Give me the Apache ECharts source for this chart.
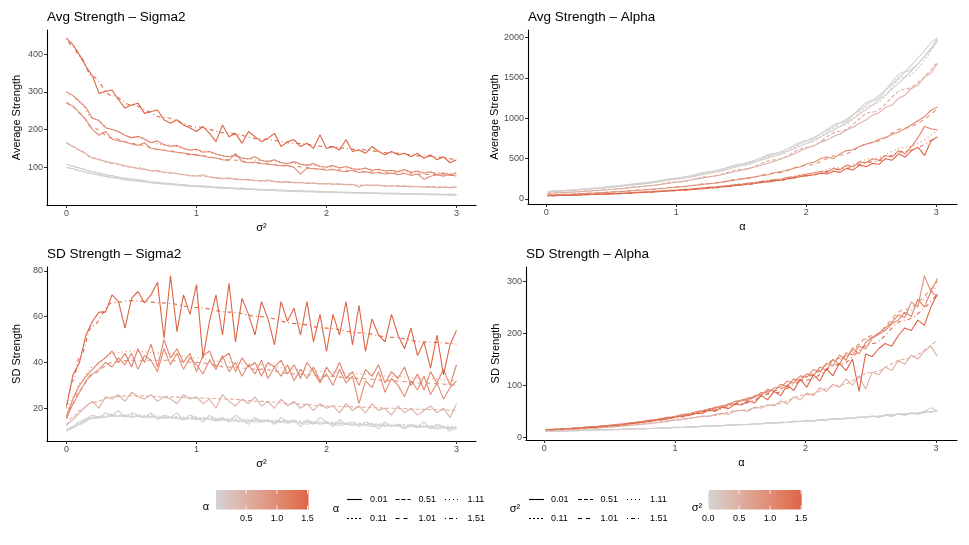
<!DOCTYPE html>
<html><head><meta charset="utf-8">
<script src="https://cdn.jsdelivr.net/npm/echarts@6/dist/echarts.min.js"></script>
<style>html,body{margin:0;padding:0;background:#fff}#c{width:969px;height:545px}</style>
</head><body><div id="c"></div>
<script>
// ---------- data ----------
const LEVELS = [0.01, 0.11, 0.51, 1.01, 1.11, 1.51];
const LEVEL_LABELS = ['0.01', '0.11', '0.51', '1.01', '1.11', '1.51'];
const X_TICKS = [0, 1, 2, 3];
const Y_TICKS_AVG_SIG = [100, 200, 300, 400];
const Y_TICKS_AVG_ALP = [0, 500, 1000, 1500, 2000];
const Y_TICKS_SD_SIG = [20, 40, 60, 80];
const Y_TICKS_SD_ALP = [0, 100, 200, 300];
const BAR_TICKS = ['0.5', '1.0', '1.5'];
const BAR_TICKS_S = ['0.0', '0.5', '1.0', '1.5'];

const SIG_X = [0,0.05,0.1,0.15,0.2,0.25,0.3,0.35,0.4,0.45,0.5,0.55,0.6,0.65,0.7,0.75,0.8,0.85,0.9,0.95,1,1.05,1.1,1.15,1.2,1.25,1.3,1.35,1.4,1.45,1.5,1.55,1.6,1.65,1.7,1.75,1.8,1.85,1.9,1.95,2,2.05,2.1,2.15,2.2,2.25,2.3,2.35,2.4,2.45,2.5,2.55,2.6,2.65,2.7,2.75,2.8,2.85,2.9,2.95,3];
const ALPHA_X = [0.01,0.06,0.11,0.16,0.21,0.26,0.31,0.36,0.41,0.46,0.51,0.56,0.61,0.66,0.71,0.76,0.81,0.86,0.91,0.96,1.01,1.06,1.11,1.16,1.21,1.26,1.31,1.36,1.41,1.46,1.51,1.56,1.61,1.66,1.71,1.76,1.81,1.86,1.91,1.96,2.01,2.06,2.11,2.16,2.21,2.26,2.31,2.36,2.41,2.46,2.51,2.56,2.61,2.66,2.71,2.76,2.81,2.86,2.91,2.96,3.01];
const SIG_SX = [0,0.05,0.1,0.2,0.35,0.5,0.75,1,1.25,1.5,1.75,2,2.25,2.5,2.75,3];
const ALPHA_SX = [0.01,0.06,0.11,0.21,0.36,0.51,0.76,1.01,1.26,1.51,1.76,2.01,2.26,2.51,2.76,3.01];

// Panel 1: Avg Strength vs sigma2 (groups = alpha)
const AVG_SIG_001 = [100,96,91,87,83,79,76,73,70,68, 65,63,61,59,57,56,54,53,51,50, 49,48,47,46,45,44,43,42,41,41, 40,39,38,38,37,36,36,35,35,34, 34,33,33,32,32,31,31,31,30,30, 29,29,29,28,28,28,27,27,27,26, 26];
const AVG_SIG_011 = [108,103,98,93,88,84,80,78,73,71, 69,66,65,61,60,58,57,55,54,52, 51,50,49,47,47,45,44,44,43,42, 41,41,40,39,39,38,37,37,36,36, 35,35,34,34,33,33,33,32,32,31, 31,31,30,30,30,29,29,29,28,29, 28];
const AVG_SIG_051 = [165,155,145,135,125,120,116,112,108,104, 100,96,95,90,92,86,85,83,80,78, 77,80,74,72,70,72,68,67,68,65, 64,66,62,60,62,59,60,57,58,56, 57,55,56,54,55,48,53,52,53,50, 51,49,50,48,49,47,48,46,47,46, 48];
const AVG_SIG_101 = [272,262,245,225,200,185,195,175,170,168, 162,158,165,150,148,145,142,140,138,135, 133,130,126,125,120,118,137,115,112,114, 110,108,106,104,105,100,82,98,96,95, 92,94,90,88,92,86,88,84,86,82, 85,80,84,78,82,68,76,80,76,82, 76];
const AVG_SIG_111 = [300,290,275,258,230,224,205,200,195,185, 178,182,175,165,170,160,155,158,150,145, 148,140,142,135,130,128,132,124,122,128, 118,115,120,112,110,115,108,105,110,102, 100,105,98,102,96,94,98,92,95,90, 92,88,94,86,90,84,88,80,85,78, 86];
const AVG_SIG_151 = [442,425,398,367,342,296,301,305,279,257, 265,270,243,248,252,226,217,226,212,204, 195,208,190,168,212,181,190,164,195,181, 168,177,190,155,168,173,155,164,150,186, 150,155,146,173,142,146,137,155,142,133, 142,133,137,128,137,124,133,120,128,112, 120];
const AVG_SIG_S001 = [100,96,91,83,73,65,56,49,44,40,36,34,32,30,28,26];
const AVG_SIG_S011 = [108,103,98,88,77,69,58,51,46,41,38,35,33,31,29,28];
const AVG_SIG_S051 = [165,155,145,125,110,100,87,77,70,64,60,56,53,51,49,47];
const AVG_SIG_S101 = [272,260,243,205,178,163,145,132,120,110,102,95,89,85,81,78];
const AVG_SIG_S111 = [300,288,272,230,200,180,160,145,130,118,110,102,96,91,87,83];
const AVG_SIG_S151 = [442,420,395,340,290,265,232,207,190,175,164,155,147,138,130,120];

// Panel 2: Avg Strength vs alpha (groups = sigma2)
const AVG_ALP_001 = [93,98,103,109,114,120,127,133,140,148, 156,164,173,182,191,201,212,223,235,247, 260,274,289,304,320,337,355,373,393,414, 436,459,483,508,535,563,593,624,657,692, 729,767,808,850,895,942,992,1044,1100,1158, 1219,1283,1351,1422,1497,1577,1660,1748,1840,1937, 1995];
const AVG_ALP_011 = [88,93,98,103,108,114,120,126,133,140, 148,156,164,172,181,191,201,212,223,235, 247,260,274,289,304,320,337,355,374,394, 415,437,460,484,510,537,565,595,627,660, 695,732,771,812,855,900,948,998,1051,1107, 1166,1228,1293,1362,1434,1510,1590,1674,1763,1857, 1960];
const AVG_ALP_051 = [70,74,78,82,87,92,97,102,108,114, 120,127,134,142,150,158,167,177,187,198, 210,222,235,249,262,275,290,306,322,340, 360,380,400,422,446,470,498,528,560,600, 635,660,705,730,775,805,855,890,940,980, 1040,1070,1135,1165,1250,1285,1370,1410,1510,1560, 1680];
const AVG_ALP_101 = [50,53,56,59,62,66,70,73,78,82, 87,91,97,102,108,114,121,127,133,142, 148,155,165,172,182,190,202,212,225,235, 250,262,276,292,300,325,340,360,385,400, 440,455,500,520,500,560,600,610,650,680, 700,740,760,800,830,870,920,970,1020,1100, 1140];
const AVG_ALP_111 = [42,44,46,48,51,53,56,59,62,64, 68,72,75,79,84,88,92,97,102,108, 112,120,123,132,136,147,150,162,166,180, 184,198,204,218,226,242,248,268,275,295, 310,325,340,330,380,360,420,400,460,450, 500,480,540,520,600,560,650,760,900,870, 855];
const AVG_ALP_151 = [40,42,44,46,48,50,53,55,58,61, 64,67,71,74,78,82,87,91,96,101, 106,113,115,125,128,138,141,152,156,168, 173,186,192,206,212,228,235,252,260,278, 290,300,320,310,345,330,380,360,420,400, 440,430,500,480,560,520,600,640,540,720, 770];
const AVG_ALP_S001 = [93,98,103,114,133,156,201,260,337,436,563,729,942,1219,1577,1990];
const AVG_ALP_S011 = [88,93,98,108,126,148,191,247,320,415,537,695,900,1166,1510,1960];
const AVG_ALP_S051 = [70,74,78,87,102,121,160,212,280,368,485,640,840,1080,1360,1700];
const AVG_ALP_S101 = [50,53,56,62,73,87,114,148,192,250,322,420,545,700,880,1120];
const AVG_ALP_S111 = [42,44,46,51,59,68,88,112,145,186,240,310,395,500,640,850];
const AVG_ALP_S151 = [40,42,44,48,55,64,82,106,136,175,225,290,370,460,590,780];

// Panel 3: SD Strength vs sigma2 (groups = alpha)
const SD_SIG_001 = [10,11.5,13,15,16,16.5,16,17,16.5,17, 16,16.5,16,16.5,16,15.5,16,15.5,15,15.5, 15,15.5,15,14.5,15,14.5,14.5,14,14.5,14, 14,14.5,13.5,14,13.5,14,13.5,13,13.5,13, 13.5,13,12.5,13,12.5,13,12.5,12,12.5,12, 12.5,12,11.5,12,11.5,12,11.5,11,11.5,11, 11];
const SD_SIG_011 = [10.5,12,14,15.5,17,16,18,17,19,16, 18,17,16,18,15,17,16,18,15,17, 16,14,17,15,16,14,17,15,13,16, 14,15,13,16,14,15,12,15,13,16, 14,12,15,13,14,12,14,13,11,14, 12,13,11,13,12,14,11,13,12,10, 12];
const SD_SIG_051 = [12.5,15,18,21,23,20,25,24,26,23, 27,25,24,26,23,25,24,22,26,24, 25,22,24,20,26,23,21,24,22,25, 21,23,20,24,21,23,20,22,19,22, 20,21,18,22,19,21,18,22,19,20, 17,21,18,20,17,19,21,18,20,16, 22];
const SD_SIG_101 = [15.5,22,27,32,35,37,40,38,42,39, 44,37,43,41,36,46,39,44,37,42, 39,35,41,37,43,36,40,34,39,35, 41,33,38,34,39,32,37,33,38,32, 35,30,37,31,34,22,32,29,36,27, 33,30,25,32,28,34,26,31,24,29, 32];
const SD_SIG_111 = [16.5,24,30,34,37,40,42,45,40,44, 38,46,40,48,38,50,42,46,40,44, 36,43,45,38,42,44,36,42,38,40, 34,40,38,41,35,39,33,40,36,31, 38,34,40,33,36,30,37,34,39,31, 36,33,38,30,35,28,36,31,37,30, 39];
const SD_SIG_151 = [20.8,34.6,40,52,58,62,62,69.5,66.6,55, 68,71,66,69.5,75,50.6,78,53.5,69.5,61, 74,42,58,69.5,52,74.6,49,68,61,52, 66.6,59,47.7,66.6,58,63.7,52,66.6,49,61, 44.8,61,52,66.6,47.7,65,44.8,59,52,49, 61,52,46,55,43,49,37.5,52,34.6,47.7, 54];
const SD_SIG_S001 = [10,11.5,13,15.5,16.5,16.5,16,15.5,15,14.5,14,13.5,13,12.5,12,11.5];
const SD_SIG_S011 = [10.5,12,14,16,17,17,16.5,16,15.5,15,14.5,14,13.5,13,12.5,12];
const SD_SIG_S051 = [12.5,16,19,22.5,25,25.5,25,24.5,24,23,22,21,20.5,20,19.5,19];
const SD_SIG_S101 = [15.5,22,28,35,40,41,41,40,38,37,35,34,33,32,31,30];
const SD_SIG_S111 = [16.5,25,31,38,44,45,44,42,40,39,37,36,35,34,33,32];
const SD_SIG_S151 = [20,32,42,56,66,67,66,64,62,60,57,55,53,51,49,48];

// Panel 4: SD Strength vs alpha (groups = sigma2)
const SD_ALP_001 = [11,11.5,12,12.3,12.6,13,13.3,13.6,14,14.3, 14.7,15,15.4,15.8,16.2,16.6,17,17.4,17.8,18.3, 18.8,19.3,19.8,20.3,20.8,21.4,22,22.5,23,23.6, 24.2,24.8,25.5,26.2,26.9,27.6,28.3,29,29.8,30.5, 31.3,32,32.8,33.6,34.5,35.3,36.2,37,38,39, 41,39,43,42,45,44,47,46,50,48, 52];
const SD_ALP_011 = [11,12,11.5,12.5,13,12.8,13.8,13.5,14.5,14.2, 15.2,14.8,16,15.5,16.8,16.2,17.5,17,18.5,18, 19.5,18.8,20.5,19.8,21.5,20.8,23,22,24,23, 25,24,26.5,25.5,28,27,29.5,28.5,31,30, 32.5,31,34,33,36,34.5,37.5,36,39.5,37, 41,38,43,40,45,42,47,44,49,57, 50];
const SD_ALP_051 = [13,13.5,14,14.5,15,16,16.5,17,18,19, 20,21,22,23,24,25.5,27,28,29.5,31, 34,35,37,38,41,40,44,46,44,50, 52,50,58,56,62,60,70,64,78,72, 85,80,95,88,102,96,112,100,118,92, 125,120,135,128,148,140,158,150,165,175, 155];
const SD_ALP_101 = [15,15.5,16,17,17.5,18.5,19,20,21,22.5, 23,25,26,28,29,31,33,34,37,38, 41,44,45,49,50,55,56,61,62,69, 70,76,77,86,85,95,96,108,104,118, 115,130,125,142,138,158,148,172,160,182, 192,200,210,220,235,230,260,250,310,280, 305];
const SD_ALP_111 = [14.5,15,16,16.5,17,18,19,20,20.5,22, 23,24,26,27,29,30,32,34,36,38, 40,42,45,46,51,52,58,57,64,64, 72,72,80,80,92,88,102,98,112,108, 122,118,135,128,150,140,162,158,175,170, 190,198,205,218,225,240,232,265,250,280, 270];
const SD_ALP_151 = [14,14.5,15,16,16.5,17.5,18,19,20,21, 22,23,24.5,26,27,29,31,33,34,36, 39,41,42,46,46,52,50,58,55,64, 62,70,66,80,72,88,80,100,90,112, 96,120,108,132,118,142,128,150,88,160, 155,170,180,175,195,210,205,225,215,250, 275];
const SD_ALP_S001 = [11,11.5,12,12.6,13.6,14.7,16.6,18.8,21.4,24.2,27.6,31.3,35.3,40,45,51];
const SD_ALP_S011 = [11,11.4,11.8,12.5,13.5,14.5,16.5,18.5,21,24,27.5,31,35,39.5,44.5,50];
const SD_ALP_S051 = [13,13.5,14,15,17,20,25.5,33,41,52,63,82,100,125,150,187];
const SD_ALP_S101 = [15,15.5,16,17.5,20,23,30,40,53,70,90,118,152,195,245,300];
const SD_ALP_S111 = [14.5,15,16,17,20,23,30,40,53,70,90,117,150,192,240,292];
const SD_ALP_S151 = [14,14.5,15,16.5,19,22,29,38,50,65,85,110,140,180,225,275];

// ---------- styling helpers ----------
const FONT = '"Liberation Sans", Arial, Helvetica, sans-serif';
const LOW = '#D3D3D3', HIGH = '#DD6445';
const LTY = ['solid', [2, 2], [4, 2], [4, 4], [1, 3], [1, 3, 4, 3]];

function toLab(hex) {
  const c = [1, 3, 5].map(i => parseInt(hex.slice(i, i + 2), 16) / 255)
    .map(v => v <= 0.04045 ? v / 12.92 : Math.pow((v + 0.055) / 1.055, 2.4));
  const X = (0.4124 * c[0] + 0.3576 * c[1] + 0.1805 * c[2]) / 0.95047;
  const Y = (0.2126 * c[0] + 0.7152 * c[1] + 0.0722 * c[2]);
  const Z = (0.0193 * c[0] + 0.1192 * c[1] + 0.9505 * c[2]) / 1.08883;
  const f = t => t > 0.008856 ? Math.cbrt(t) : 7.787 * t + 16 / 116;
  return [116 * f(Y) - 16, 500 * (f(X) - f(Y)), 200 * (f(Y) - f(Z))];
}
function fromLab(L, a, b) {
  const fy = (L + 16) / 116, fx = fy + a / 500, fz = fy - b / 200;
  const fi = t => t > 0.206893 ? t * t * t : (t - 16 / 116) / 7.787;
  const X = fi(fx) * 0.95047, Y = fi(fy), Z = fi(fz) * 1.08883;
  const lin = [3.2406 * X - 1.5372 * Y - 0.4986 * Z, -0.9689 * X + 1.8758 * Y + 0.0415 * Z, 0.0557 * X - 0.2040 * Y + 1.0570 * Z];
  const g = v => { v = v <= 0.0031308 ? 12.92 * v : 1.055 * Math.pow(v, 1 / 2.4) - 0.055; return Math.round(Math.max(0, Math.min(1, v)) * 255); };
  return 'rgb(' + lin.map(g).join(',') + ')';
}
const LAB_LO = toLab(LOW), LAB_HI = toLab(HIGH);
function gradColor(t) {
  t = Math.max(0, Math.min(1, t));
  return fromLab(LAB_LO[0] + (LAB_HI[0] - LAB_LO[0]) * t, LAB_LO[1] + (LAB_HI[1] - LAB_LO[1]) * t, LAB_LO[2] + (LAB_HI[2] - LAB_LO[2]) * t);
}
function levelColor(v) { return gradColor((v - 0.01) / 1.5); }

// ---------- panels ----------
const PANELS = [
  { title: 'Avg Strength \u2013 Sigma2', l: 47, t: 30, r: 476, b: 205, xr: [-0.15, 3.15], yr: [0, 464], yt: Y_TICKS_AVG_SIG,
    xn: 'σ²', yn: 'Average Strength', X: SIG_X, SX: SIG_SX,
    noisy: [AVG_SIG_001, AVG_SIG_011, AVG_SIG_051, AVG_SIG_101, AVG_SIG_111, AVG_SIG_151],
    smooth: [AVG_SIG_S001, AVG_SIG_S011, AVG_SIG_S051, AVG_SIG_S101, AVG_SIG_S111, AVG_SIG_S151] },
  { title: 'Avg Strength \u2013 Alpha', l: 528, t: 30, r: 957, b: 204, xr: [-0.14, 3.16], yr: [-62, 2095], yt: Y_TICKS_AVG_ALP,
    xn: 'α', yn: 'Average Strength', X: ALPHA_X, SX: ALPHA_SX,
    noisy: [AVG_ALP_001, AVG_ALP_011, AVG_ALP_051, AVG_ALP_101, AVG_ALP_111, AVG_ALP_151],
    smooth: [AVG_ALP_S001, AVG_ALP_S011, AVG_ALP_S051, AVG_ALP_S101, AVG_ALP_S111, AVG_ALP_S151] },
  { title: 'SD Strength \u2013 Sigma2', l: 47, t: 267, r: 476, b: 441, xr: [-0.15, 3.15], yr: [5.7, 81.7], yt: Y_TICKS_SD_SIG,
    xn: 'σ²', yn: 'SD Strength', X: SIG_X, SX: SIG_SX,
    noisy: [SD_SIG_001, SD_SIG_011, SD_SIG_051, SD_SIG_101, SD_SIG_111, SD_SIG_151],
    smooth: [SD_SIG_S001, SD_SIG_S011, SD_SIG_S051, SD_SIG_S101, SD_SIG_S111, SD_SIG_S151] },
  { title: 'SD Strength \u2013 Alpha', l: 526, t: 267, r: 957, b: 440, xr: [-0.14, 3.16], yr: [-5.2, 327], yt: Y_TICKS_SD_ALP,
    xn: 'α', yn: 'SD Strength', X: ALPHA_X, SX: ALPHA_SX,
    noisy: [SD_ALP_001, SD_ALP_011, SD_ALP_051, SD_ALP_101, SD_ALP_111, SD_ALP_151],
    smooth: [SD_ALP_S001, SD_ALP_S011, SD_ALP_S051, SD_ALP_S101, SD_ALP_S111, SD_ALP_S151] }
];

const grids = [], xAxes = [], yAxes = [], series = [], graphics = [];
const axisLineStyle = { color: '#000', width: 1.1 };
const plain = v => String(v);
PANELS.forEach((p, i) => {
  grids.push({ left: p.l, top: p.t, width: p.r - p.l, height: p.b - p.t, containLabel: false });
  xAxes.push({
    type: 'value', gridIndex: i, min: p.xr[0], max: p.xr[1],
    axisLine: { show: true, onZero: false, lineStyle: axisLineStyle },
    axisTick: { show: true, length: 3, customValues: X_TICKS, lineStyle: { color: '#333', width: 1 } },
    axisLabel: { customValues: X_TICKS, formatter: plain, color: '#4d4d4d', fontSize: 9, margin: 4, fontFamily: FONT },
    splitLine: { show: false },
    name: p.xn, nameLocation: 'middle', nameGap: 17,
    nameTextStyle: { color: '#000', fontSize: 11, fontFamily: FONT }
  });
  yAxes.push({
    type: 'value', gridIndex: i, min: p.yr[0], max: p.yr[1],
    axisLine: { show: true, onZero: false, lineStyle: axisLineStyle },
    axisTick: { show: true, length: 3, customValues: p.yt, lineStyle: { color: '#333', width: 1 } },
    axisLabel: { customValues: p.yt, formatter: plain, color: '#4d4d4d', fontSize: 9, margin: 4, fontFamily: FONT },
    splitLine: { show: false },
    name: p.yn, nameLocation: 'middle', nameGap: 25,
    nameTextStyle: { color: '#000', fontSize: 11, fontFamily: FONT }
  });
  LEVELS.forEach((v, k) => {
    series.push({
      type: 'line', xAxisIndex: i, yAxisIndex: i, symbol: 'none', silent: true, z: 2 + k,
      data: p.noisy[k].map((y, j) => [p.X[j], y]),
      lineStyle: { color: levelColor(v), width: 1.1 }
    });
  });
  LEVELS.forEach((v, k) => {
    series.push({
      type: 'line', xAxisIndex: i, yAxisIndex: i, symbol: 'none', silent: true, z: 10 + k,
      smooth: 0.35, smoothMonotone: 'x',
      data: p.smooth[k].map((y, j) => [p.SX[j], y]),
      lineStyle: { color: levelColor(v), width: 1.1, type: LTY[k] }
    });
  });
  graphics.push({ type: 'text', x: p.l, y: p.t === 30 ? 17 : 254,
    style: { text: p.title, font: '13.5px ' + FONT, fill: '#000', textAlign: 'left', align: 'left', textVerticalAlign: 'middle', verticalAlign: 'middle' } });
});

// ---------- legends ----------
function txt(x, y, s, size, align, color) {
  graphics.push({ type: 'text', x: x, y: y, silent: true,
    style: { text: s, font: size + 'px ' + FONT, fill: color || '#000', textAlign: align, align: align, textVerticalAlign: 'middle', verticalAlign: 'middle' } });
}
function colorbar(x0, x1, y0, y1, labels, labelPos) {
  const stops = [];
  for (let s = 0; s <= 10; s++) stops.push({ offset: s / 10, color: gradColor(s / 10) });
  graphics.push({ type: 'rect', silent: true, shape: { x: x0, y: y0, width: x1 - x0, height: y1 - y0 },
    style: { fill: new echarts.graphic.LinearGradient(0, 0, 1, 0, stops) } });
  labelPos.forEach((px, i) => {
    graphics.push({ type: 'line', silent: true, shape: { x1: px, y1: y0, x2: px, y2: y0 + 4 }, style: { stroke: '#fff', lineWidth: 0.8 } });
    graphics.push({ type: 'line', silent: true, shape: { x1: px, y1: y1 - 4, x2: px, y2: y1 }, style: { stroke: '#fff', lineWidth: 0.8 } });
    txt(px, 518.5, labels[i], 9, 'center', '#000');
  });
}
function ltyLegend(titleX, title, keyX, labelX) {
  txt(titleX, 508.5, title, 11, 'center', '#000');
  LEVELS.forEach((v, k) => {
    const col = Math.floor(k / 2), row = k % 2;
    const y = row === 0 ? 499.5 : 518.5;
    const kx = keyX[col];
    graphics.push({ type: 'line', silent: true, shape: { x1: kx, y1: y, x2: kx + 15, y2: y },
      style: { stroke: '#000', lineWidth: 1.1, lineDash: LTY[k] === 'solid' ? null : LTY[k] } });
    txt(labelX[col], y, LEVEL_LABELS[k], 9, 'left', '#000');
  });
}
txt(206, 506.5, 'α', 11, 'center');
colorbar(216, 308.5, 490, 509.5, BAR_TICKS, [246.2, 276.9, 307.5]);
ltyLegend(336, 'α', [347, 395.5, 445], [370, 418.5, 467.5]);
ltyLegend(515, 'σ²', [529, 578, 627], [551, 600.5, 650]);
txt(697, 508, 'σ²', 11, 'center');
colorbar(708.3, 801.7, 490, 509.5, BAR_TICKS_S, [708.3, 739.2, 770.1, 801]);

const chart = echarts.init(document.getElementById('c'), null, { renderer: 'canvas' });
chart.setOption({
  animation: false,
  backgroundColor: '#fff',
  textStyle: { fontFamily: FONT },
  grid: grids, xAxis: xAxes, yAxis: yAxes, series: series,
  graphic: { elements: graphics }
});
</script></body></html>
